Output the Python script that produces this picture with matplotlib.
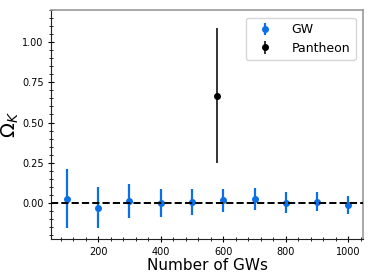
import matplotlib

matplotlib.use("Agg")
import matplotlib.pyplot as plt
from matplotlib.ticker import AutoMinorLocator

# GW forecast: Omega_K estimate vs number of events
n_gw = [100, 200, 300, 400, 500, 600, 700, 800, 900, 1000]
ok_gw = [0.027, -0.029, 0.010, -0.002, 0.006, 0.017, 0.023, 0.002, 0.008, -0.012]
err_gw = [0.185, 0.125, 0.105, 0.087, 0.079, 0.072, 0.068, 0.063, 0.060, 0.056]

# Pantheon SNe constraint
n_pan = [581]
ok_pan = [0.667]
err_pan = [0.42]

BLUE = "#0b6fe8"

fig = plt.figure(figsize=(3.74, 2.78), dpi=100)
ax = fig.add_axes([0.137, 0.140, 0.834, 0.824])

ax.errorbar(n_gw, ok_gw, yerr=err_gw, fmt="o", color=BLUE, ms=4, elinewidth=1.6,
            label="GW")
ax.errorbar(n_pan, ok_pan, yerr=err_pan, fmt="o", color="black", ecolor="#333333",
            ms=4, elinewidth=1.4, label="Pantheon")
ax.axhline(0, color="black", ls="--", lw=1.4, zorder=3)

ax.set_xlim(50, 1047)
ax.set_ylim(-0.225, 1.2)
ax.set_xticks([200, 400, 600, 800, 1000])
ax.set_yticks([0.0, 0.25, 0.5, 0.75, 1.0])
ax.yaxis.set_major_formatter(matplotlib.ticker.FormatStrFormatter("%.2f"))
ax.xaxis.set_minor_locator(AutoMinorLocator(5))
ax.yaxis.set_minor_locator(AutoMinorLocator(5))
ax.tick_params(which="both", labelsize=7, direction="inout")
ax.tick_params(which="major", length=4)
ax.tick_params(which="minor", length=2.5)

for side in ("top", "right"):
    ax.spines[side].set_color("#999999")
    ax.spines[side].set_linewidth(1.2)
for side in ("left", "bottom"):
    ax.spines[side].set_color("#222222")

ax.set_xlabel("Number of GWs", fontsize=11, labelpad=1)
ax.set_ylabel(r"$\Omega_K$", fontsize=14, labelpad=1)
ax.legend(loc="upper right", fontsize=9, handlelength=2.2, borderpad=0.45,
          labelspacing=0.45, handletextpad=1.0, borderaxespad=0.6)

fig.savefig("out.png", dpi=100)
